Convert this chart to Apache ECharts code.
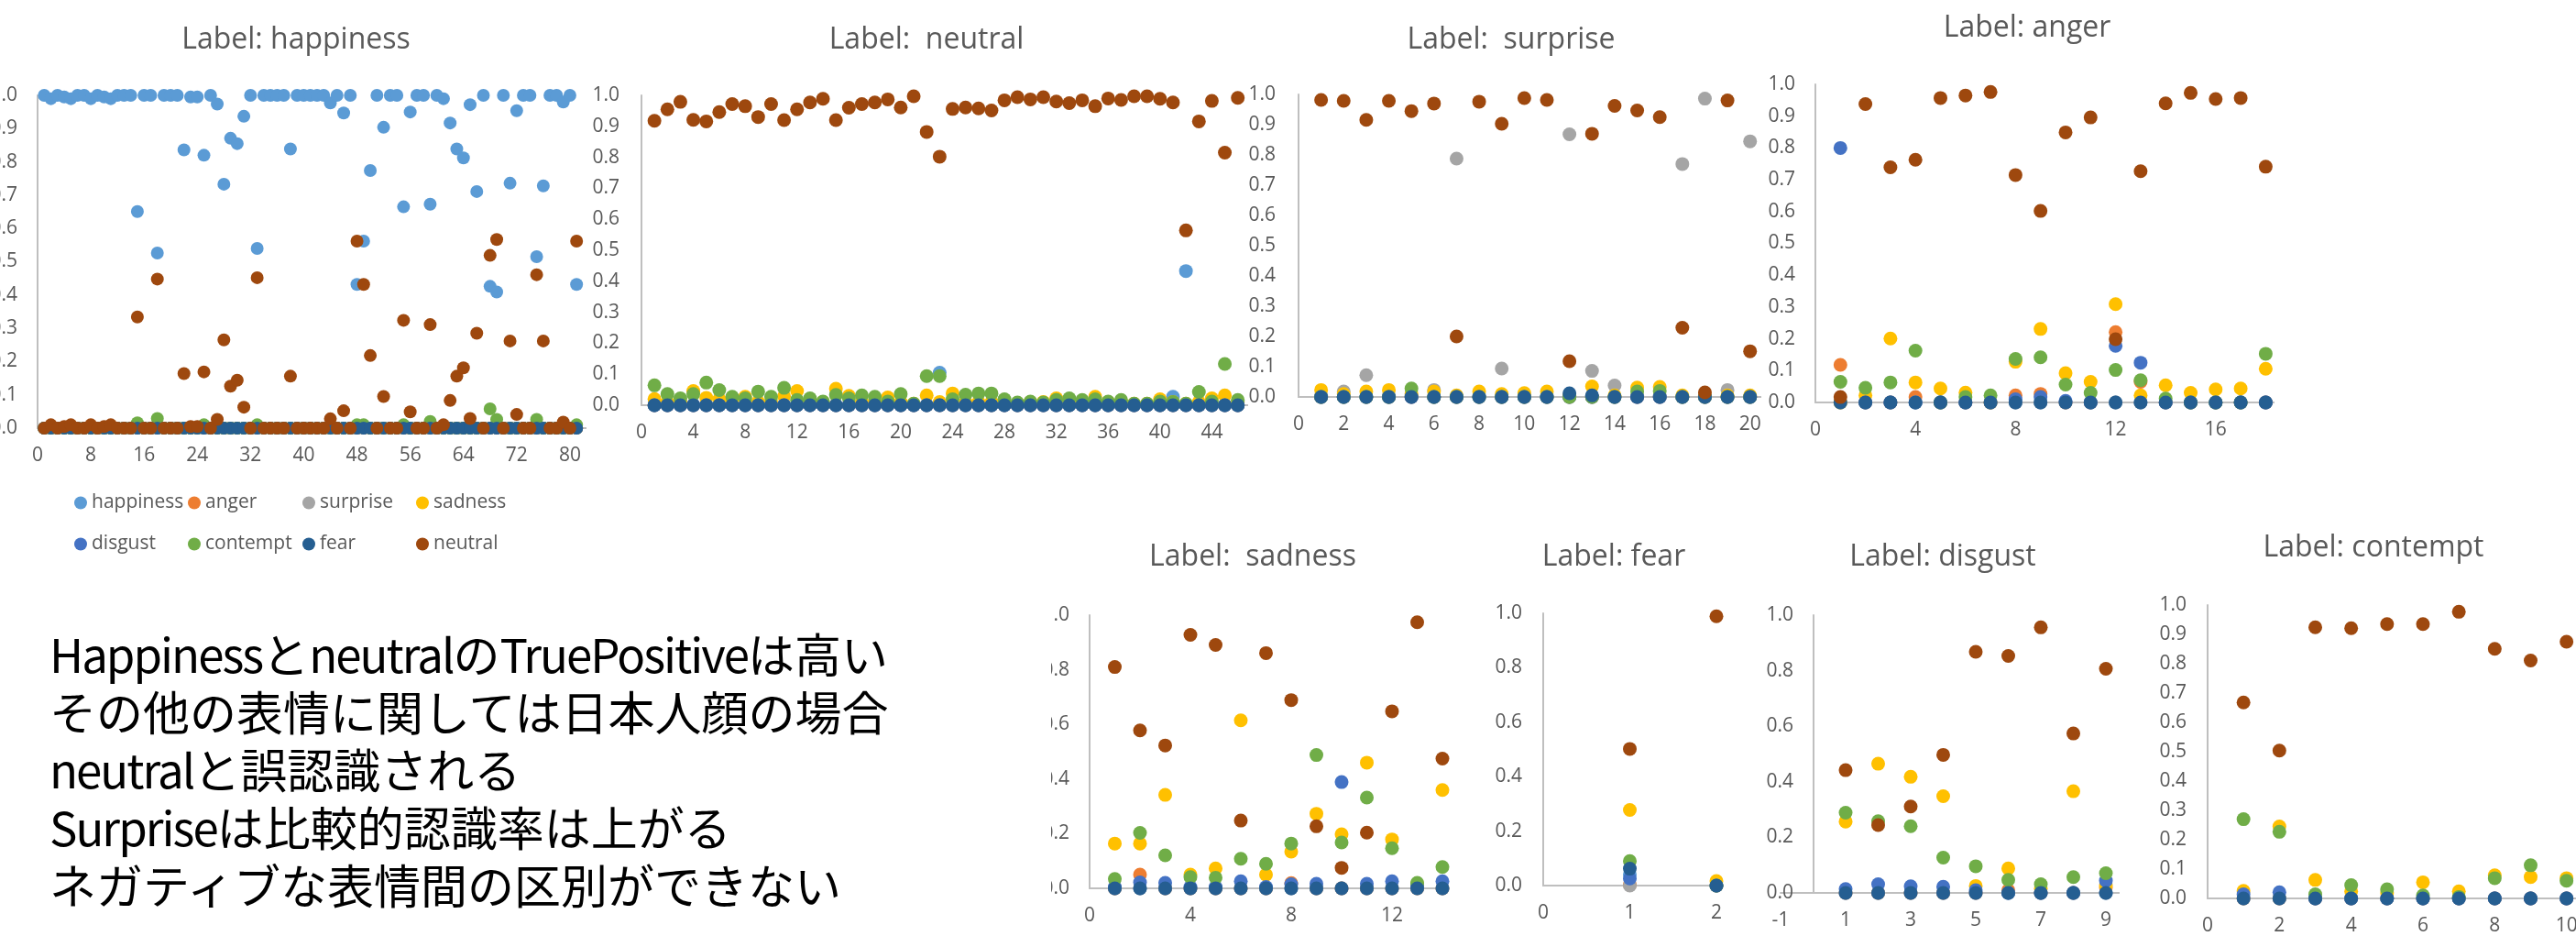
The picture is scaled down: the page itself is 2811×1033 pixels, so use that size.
<!DOCTYPE html>
<html>
<head>
<meta charset="utf-8">
<script src="https://cdn.jsdelivr.net/npm/echarts@6.0.0/dist/echarts.min.js"></script>
<style>
  html, body { margin: 0; padding: 0; background: #fff; }
  body { width: 2811px; height: 1033px; position: relative; overflow: hidden; }
  .panel { position: absolute; overflow: hidden; }
  #note { position: absolute; left: 54px; top: 681px; font-family: 'Noto Sans CJK JP'; font-size: 51px; line-height: 63px; color: #000; white-space: nowrap; }
  #note .lt { letter-spacing: -2px; }
</style>
</head>
<body>
<div id="p-happiness" class="panel" style="left:0;top:0;width:640px;height:625px"></div>
<div id="p-neutral" class="panel" style="left:640px;top:0;width:722px;height:500px"></div>
<div id="p-surprise" class="panel" style="left:1362px;top:0;width:560px;height:500px"></div>
<div id="p-anger" class="panel" style="left:1922px;top:0;width:560px;height:490px"></div>
<div id="p-sadness" class="panel" style="left:1147px;top:574px;width:466px;height:459px"></div>
<div id="p-fear" class="panel" style="left:1613px;top:574px;width:287px;height:459px"></div>
<div id="p-disgust" class="panel" style="left:1900px;top:574px;width:413px;height:459px"></div>
<div id="p-contempt" class="panel" style="left:2313px;top:574px;width:498px;height:459px"></div>
<div id="note"><span class="lt">Happiness</span>と<span class="lt">neutral</span>の<span class="lt">TruePositive</span>は高い<br>その他の表情に関しては日本人顔の場合<br><span class="lt">neutral</span>と誤認識される<br><span class="lt">Surprise</span>は比較的認識率は上がる<br>ネガティブな表情間の区別ができない</div>

<script>
// series order as in the Excel legend
const seriesNames = ['happiness', 'anger', 'surprise', 'sadness', 'disgust', 'contempt', 'fear', 'neutral'];
const seriesColors = ['#5B9BD5', '#ED7D31', '#A5A5A5', '#FFC000', '#4472C4', '#70AD47', '#255E91', '#9E480E'];

// ---- Label: happiness (81 samples)
const hapHappiness = [1.0,0.99,1.0,0.995,0.99,1.0,1.0,0.99,1.0,0.995, 0.99,1.0,1.0,1.0,0.651,1.0,1.0,0.526,1.0,1.0,
  1.0,0.836,0.995,0.995,0.82,1.0,0.974,0.733,0.871,0.855, 0.937,1.0,0.54,1.0,1.0,1.0,1.0,0.839,1.0,1.0,
  1.0,1.0,1.0,0.977,1.0,0.947,1.0,0.432,0.562,0.774, 1.0,0.904,1.0,1.0,0.665,0.95,1.0,1.0,0.673,1.0,
  0.99,0.917,0.839,0.812,0.972,0.711,1.0,0.426,0.409,1.0, 0.736,0.954,1.0,1.0,0.515,0.728,1.0,1.0,0.98,1.0, 0.432];
const hapNeutral = [0,0.01,0,0.005,0.01,0,0,0.01,0,0.005, 0.01,0,0,0,0.334,0,0,0.448,0,0,
  0,0.164,0.005,0.005,0.169,0,0.026,0.265,0.126,0.144, 0.063,0,0.452,0,0,0,0,0.156,0,0,
  0,0,0,0.028,0,0.052,0,0.562,0.432,0.218, 0,0.095,0,0,0.324,0.049,0,0,0.311,0,
  0.01,0.083,0.156,0.181,0.029,0.285,0,0.519,0.567,0, 0.262,0.041,0,0,0.461,0.262,0,0,0.018,0, 0.562];
const hapContempt = [0,0,0,0,0,0,0,0,0,0, 0,0,0,0,0.016,0,0,0.029,0,0, 0,0,0,0,0.01,0,0,0,0,0, 0,0,0.01,0,0,0,0,0,0,0,
  0,0,0,0,0,0,0,0.01,0.01,0, 0,0,0,0,0.01,0,0,0,0.02,0, 0,0,0,0,0,0,0,0.058,0.026,0, 0,0,0,0,0.026,0,0,0,0,0, 0.01];
const hapZeros = [0,0,0,0,0,0,0,0,0,0, 0,0,0,0,0,0,0,0,0,0, 0,0,0,0,0,0,0,0,0,0, 0,0,0,0,0,0,0,0,0,0,
  0,0,0,0,0,0,0,0,0,0, 0,0,0,0,0,0,0,0,0,0, 0,0,0,0,0,0,0,0,0,0, 0,0,0,0,0,0,0,0,0,0, 0];

// ---- Label: neutral (46 samples)
const neuNeutral = [0.918,0.955,0.979,0.921,0.916,0.946,0.972,0.965,0.930,0.972, 0.920,0.955,0.977,0.989,0.920,0.960,0.972,0.977,0.987,0.961,
  0.997,0.882,0.802,0.956,0.961,0.958,0.951,0.984,0.994,0.987, 0.994,0.980,0.975,0.984,0.965,0.990,0.985,0.997,0.997,0.989,
  0.977,0.564,0.916,0.982,0.815,0.992];
const neuHappiness = [0,0,0,0,0,0,0,0,0,0, 0,0,0,0,0,0,0,0,0,0, 0,0,0.105,0,0,0,0,0,0,0, 0,0,0,0,0,0,0,0,0,0, 0.027,0.433,0,0,0,0];
const neuContempt = [0.064,0.036,0.022,0.036,0.073,0.049,0.027,0.022,0.044,0.027, 0.056,0.017,0.022,0.012,0.033,0.022,0.032,0.027,0.012,0.036,
  0.005,0.094,0.094,0.019,0.034,0.038,0.038,0.019,0.009,0.012, 0.009,0.017,0.022,0.017,0.019,0.012,0.017,0.005,0.005,0.012,
  0.01,0.005,0.043,0.012,0.133,0.017];
const neuSadness = [0.02,0.01,0.01,0.046,0.024,0.019,0.01,0.027,0.01,0.01, 0.029,0.046,0.01,0.01,0.053,0.03,0.01,0.01,0.025,0.01,
  0.005,0.032,0.01,0.038,0.01,0.01,0.01,0.01,0.005,0.01, 0.01,0.022,0.01,0.01,0.027,0.01,0.01,0.005,0.005,0.019,
  0.01,0.005,0.01,0.022,0.032,0.01];
const neuZeros = [0,0,0,0,0,0,0,0,0,0, 0,0,0,0,0,0,0,0,0,0, 0,0,0,0,0,0,0,0,0,0, 0,0,0,0,0,0,0,0,0,0, 0,0,0,0,0,0];

// ---- Label: surprise (20 samples)
const surNeutral = [0.982,0.979,0.916,0.979,0.945,0.970,0.2,0.976,0.903,0.988, 0.982,0.118,0.87,0.962,0.947,0.925,0.229,0.015,0.98,0.151];
const surSurprise = [0.005,0.018,0.072,0.005,0.005,0.023,0.788,0.005,0.094,0.005, 0.005,0.868,0.086,0.038,0.005,0.005,0.77,0.986,0.023,0.845];
const surSadness = [0.023,0.01,0.018,0.023,0.01,0.018,0.005,0.018,0.01,0.013, 0.018,0.005,0.035,0.005,0.031,0.033,0.005,0.005,0.005,0.005];
const surContempt = [0,0,0,0,0.028,0,0,0,0,0, 0,0,0,0,0.018,0.02,0,0,0,0];
const surFear = [0,0,0,0,0,0,0,0,0,0, 0,0.012,0.005,0,0,0,0,0,0,0];
const surZeros = [0,0,0,0,0,0,0,0,0,0, 0,0,0,0,0,0,0,0,0,0];

// ---- Label: anger (18 samples)
const angNeutral = [0.017,0.938,0.739,0.763,0.957,0.965,0.976,0.715,0.602,0.849, 0.896,0.199,0.727,0.94,0.973,0.954,0.957,0.741];
const angDisgust = [0.8,0,0,0,0,0,0,0.01,0.017,0.005, 0,0.178,0.125,0,0,0,0,0];
const angAnger = [0.118,0,0,0.017,0,0,0,0.022,0.027,0, 0,0.221,0.065,0,0,0,0,0];
const angSadness = [0,0.022,0.201,0.063,0.044,0.031,0,0.128,0.231,0.092, 0.065,0.309,0.022,0.054,0.03,0.041,0.044,0.106];
const angContempt = [0.065,0.046,0.063,0.163,0,0.017,0.022,0.137,0.142,0.056, 0.03,0.102,0.07,0.012,0,0,0,0.153];
const angZeros = [0,0,0,0,0,0,0,0,0,0, 0,0,0,0,0,0,0,0];

// ---- Label: sadness (14 samples)
const sadNeutral = [0.81,0.578,0.523,0.928,0.891,0.248,0.861,0.689,0.227,0.075, 0.204,0.648,0.974,0.475];
const sadSadness = [0.164,0.164,0.342,0.05,0.073,0.615,0.05,0.134,0.273,0.198, 0.46,0.179,0.017,0.36];
const sadContempt = [0.034,0.203,0.121,0.041,0.039,0.108,0.09,0.164,0.488,0.168, 0.332,0.147,0.02,0.078];
const sadDisgust = [0.005,0.022,0.02,0.005,0.005,0.026,0.005,0.015,0.017,0.389, 0.017,0.026,0.01,0.026];
const sadAnger = [0,0.05,0,0,0,0,0,0.019,0,0, 0,0,0,0];
const sadHappiness = [0,0,0,0,0,0,0,0,0,0, 0,0,0.01,0];
const sadZeros = [0,0,0,0,0,0,0,0,0,0, 0,0,0,0];

// ---- Label: fear (2 samples)
const fearNeutral = [0.502, 0.989];
const fearSadness = [0.278, 0.017];
const fearContempt = [0.09, 0];
const fearFear = [0.062, 0];
const fearDisgust = [0.026, 0];
const fearAnger = [0.003, 0];
const fearHappiness = [0.04, 0];
const fearSurprise = [0, 0];

// ---- Label: disgust (9 samples)
const disNeutral = [0.442,0.244,0.311,0.497,0.868,0.853,0.956,0.574,0.807];
const disSadness = [0.257,0.465,0.418,0.348,0.025,0.088,0.016,0.366,0.027];
const disContempt = [0.289,0.258,0.24,0.127,0.096,0.047,0.031,0.057,0.071];
const disDisgust = [0.014,0.031,0.024,0.022,0.01,0,0,0,0.044];
const disAnger = [0,0,0,0,0,0.01,0,0,0.02];
const disZeros = [0,0,0,0,0,0,0,0,0];

// ---- Label: contempt (10 samples)
const conNeutral = [0.668,0.504,0.924,0.921,0.935,0.935,0.977,0.851,0.811,0.875];
const conContempt = [0.27,0.227,0.014,0.045,0.031,0.01,0.005,0.069,0.113,0.06];
const conSadness = [0.026,0.245,0.063,0.024,0.019,0.055,0.024,0.079,0.073,0.069];
const conDisgust = [0.014,0.021,0,0,0,0,0,0,0,0];
const conZeros = [0,0,0,0,0,0,0,0,0,0];

const gray = '#595959';
const axisGray = '#BFBFBF';
const font = 'Open Sans';

// layout of each cropped chart (px inside its panel div)
const panels = [
  { id: 'p-happiness', title: 'Label: happiness', tx: 323, ty: 50, size: 14,
    grid: { left: 41, right: -40, top: 104, bottom: 158 }, xr: [0, 88, 8], yi: 0.1, ym: 22, legend: true,
    cols: [hapHappiness, hapZeros, hapZeros, hapZeros, hapZeros, hapContempt, hapZeros, hapNeutral] },
  { id: 'p-neutral', title: 'Label:  neutral', tx: 371, ty: 50, size: 15,
    grid: { left: 60, right: -17, top: 104, bottom: 58 }, xr: [0, 48, 4], yi: 0.1, ym: 24,
    cols: [neuHappiness, neuZeros, neuZeros, neuSadness, neuZeros, neuContempt, neuZeros, neuNeutral] },
  { id: 'p-surprise', title: 'Label:  surprise', tx: 287, ty: 50, size: 15,
    grid: { left: 55, right: -37, top: 103, bottom: 67 }, xr: [0, 22, 2], yi: 0.1, ym: 25,
    cols: [surZeros, surZeros, surSurprise, surSadness, surZeros, surContempt, surFear, surNeutral] },
  { id: 'p-anger', title: 'Label: anger', tx: 290, ty: 37, size: 15,
    grid: { left: 59, right: -45, top: 92, bottom: 51 }, xr: [0, 20, 4], yi: 0.1, ym: 22,
    cols: [angZeros, angAnger, angZeros, angSadness, angDisgust, angContempt, angZeros, angNeutral] },
  { id: 'p-sadness', title: 'Label:  sadness', tx: 220, ty: 40, size: 15,
    grid: { left: 42, right: 39, top: 97, bottom: 64 }, xr: [0, 14, 4], yi: 0.2, ym: 22, hideMax: true,
    cols: [sadHappiness, sadAnger, sadZeros, sadSadness, sadDisgust, sadContempt, sadZeros, sadNeutral] },
  { id: 'p-fear', title: 'Label: fear', tx: 148, ty: 40, size: 15,
    grid: { left: 71, right: 27, top: 95, bottom: 67 }, xr: [0, 2, 1], yi: 0.2, ym: 23,
    cols: [fearHappiness, fearAnger, fearSurprise, fearSadness, fearDisgust, fearContempt, fearFear, fearNeutral] },
  // y axis crosses at x = 0, one unit (36px) right of the grid's left edge
  { id: 'p-disgust', title: 'Label: disgust', tx: 220, ty: 40, size: 15, yOffset: -36,
    grid: { left: 43, right: -56, top: 97, bottom: 59 }, xr: [-1, 11, 2], yi: 0.2, ym: 22,
    cols: [disZeros, disAnger, disZeros, disSadness, disDisgust, disContempt, disZeros, disNeutral] },
  { id: 'p-contempt', title: 'Label: contempt', tx: 277, ty: 30, size: 15,
    grid: { left: 96, right: -68, top: 86, bottom: 53 }, xr: [0, 12, 2], yi: 0.1, ym: 23,
    cols: [conZeros, conZeros, conZeros, conSadness, conDisgust, conContempt, conZeros, conNeutral] }
];

// legend grid of the happiness chart: 4 columns x 2 rows
const legendCols = [81, 205, 330, 454];
const legendRows = [538, 583];

function legendFor() {
  return seriesNames.map((name, k) => ({
    data: [name],
    left: legendCols[k % 4],
    top: legendRows[Math.floor(k / 4)],
    padding: 0,
    icon: 'circle',
    itemWidth: 14,
    itemHeight: 14,
    selectedMode: false,
    textStyle: { fontSize: 21, color: gray, fontFamily: font }
  }));
}

panels.forEach(p => {
  const chart = echarts.init(document.getElementById(p.id));
  chart.setOption({
    animation: false,
    title: {
      text: p.title,
      left: p.tx,
      top: p.ty - 22,
      textAlign: 'center',
      padding: 0,
      textStyle: { fontSize: 32, fontWeight: 'normal', color: gray, fontFamily: font }
    },
    legend: p.legend ? legendFor() : [],
    grid: Object.assign({ containLabel: false, outerBoundsMode: 'none' }, p.grid),
    xAxis: {
      type: 'value',
      min: p.xr[0],
      max: p.xr[1],
      interval: p.xr[2],
      splitLine: { show: false },
      axisTick: { show: false },
      axisLine: { lineStyle: { color: axisGray, width: 2 } },
      axisLabel: { fontSize: 21, color: gray, fontFamily: font, margin: 20, showMaxLabel: !p.hideMax }
    },
    yAxis: {
      type: 'value',
      min: 0,
      max: 1,
      interval: p.yi,
      offset: p.yOffset || 0,
      splitLine: { show: false },
      axisTick: { show: false },
      axisLine: { show: true, onZero: false, lineStyle: { color: axisGray, width: 2 } },
      axisLabel: { fontSize: 21, color: gray, fontFamily: font, margin: p.ym, formatter: v => v.toFixed(1) }
    },
    series: seriesNames.map((name, k) => ({
      name: name,
      type: 'scatter',
      symbol: 'circle',
      symbolSize: p.size,
      itemStyle: { color: seriesColors[k], opacity: 1 },
      data: p.cols[k].map((v, i) => [i + 1, v])
    }))
  });
});
</script>
</body>
</html>
